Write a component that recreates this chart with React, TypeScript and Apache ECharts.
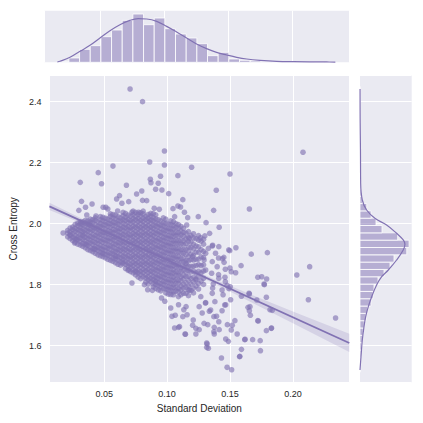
import React, { useEffect, useRef } from "react";
import * as echarts from "echarts";

// ---------- axes ----------
const xTicks = [0.05, 0.1, 0.15, 0.2];
const yTicks = [1.6, 1.8, 2.0, 2.2, 2.4];
const xRange = [0.0065, 0.2448];
const yRange = [1.4787, 2.4875];

// ---------- scatter: sparse points read individually ----------
const outerPoints: [number, number][] = [
  [0.0706, 2.4416], [0.0805, 2.4], [0.0979, 2.2384], [0.057, 2.189], [0.0862, 2.2023], [0.0979, 2.1925],
  [0.1195, 2.185], [0.0453, 2.1672], [0.031, 2.1357], [0.0479, 2.1311], [0.1086, 2.1574], [0.0948, 2.1554],
  [0.0867, 2.1456], [0.093, 2.1325], [0.0872, 2.1344], [0.0677, 2.1259], [0.0799, 2.1072], [0.0758, 2.0974],
  [0.0909, 2.1128], [0.0959, 2.1105], [0.1013, 2.0984], [0.0622, 2.0918], [0.0599, 2.081], [0.0695, 2.0722],
  [0.0805, 2.0767], [0.0838, 2.0754], [0.0641, 2.0669], [0.1125, 2.0787], [0.1086, 2.058], [0.032, 2.0734],
  [0.0404, 2.0646], [0.0299, 2.0439], [0.0352, 2.0538], [0.0492, 2.0538], [0.0513, 2.0538], [0.0529, 2.0482],
  [0.0607, 2.0417], [0.0898, 2.0505], [0.0938, 2.0472], [0.1047, 2.0492], [0.1107, 2.0548], [0.1138, 2.0374],
  [0.1248, 2.023], [0.0362, 2.0285], [0.0435, 2.0252], [0.0721, 2.0374], [0.0773, 2.0374], [0.1164, 2.0197],
  [0.106, 2.023], [0.032, 2.0013], [0.0383, 1.998],
  [0.208, 2.2341], [0.15, 2.1629], [0.1391, 2.1095], [0.137, 2.0439], [0.1654, 2.0482], [0.131, 2.0033],
  [0.1414, 1.9882], [0.1156, 1.9957], [0.1338, 1.9685], [0.13, 1.96], [0.1266, 1.954], [0.1174, 1.952],
  [0.1359, 1.927], [0.1328, 1.919], [0.149, 1.914], [0.1547, 1.921],
  [0.1362, 1.9292], [0.1498, 1.9115], [0.1669, 1.9], [0.1797, 1.905], [0.2031, 1.8318], [0.2133, 1.859],
  [0.2123, 1.7508], [0.2339, 1.6908], [0.144, 1.8852], [0.1453, 1.8734], [0.1409, 1.8875], [0.1588, 1.8623],
  [0.15, 1.8548], [0.1545, 1.8393], [0.146, 1.8243], [0.1409, 1.8328], [0.1721, 1.8243], [0.1752, 1.8262],
  [0.1791, 1.8187], [0.1773, 1.8], [0.1477, 1.798], [0.1492, 1.787], [0.1367, 1.8023], [0.1362, 1.789],
  [0.1654, 1.7695], [0.1591, 1.762], [0.1713, 1.7498], [0.1789, 1.7587], [0.1818, 1.718], [0.1836, 1.716],
  [0.1445, 1.7672], [0.1505, 1.7508], [0.1466, 1.7344], [0.1643, 1.7259], [0.1662, 1.6997], [0.1721, 1.682],
  [0.183, 1.658], [0.1789, 1.6492], [0.1539, 1.682], [0.1479, 1.6689], [0.1518, 1.6669], [0.1557, 1.6384],
  [0.1487, 1.6144], [0.1466, 1.622], [0.1617, 1.6197], [0.168, 1.6197], [0.174, 1.6164], [0.1742, 1.5836],
  [0.1591, 1.5882], [0.1578, 1.5652], [0.1432, 1.5597], [0.1477, 1.5292], [0.1513, 1.5213], [0.1315, 1.6089],
  [0.1315, 1.5947], [0.1375, 1.6384], [0.1323, 1.6689], [0.1375, 1.6603], [0.1414, 1.6525], [0.1393, 1.6964],
  [0.1336, 1.7128], [0.1279, 1.7072], [0.1305, 1.74], [0.1654, 1.7147],
  [0.1451, 1.8898], [0.1463, 1.8505], [0.151, 1.8426], [0.1771, 1.8023], [0.1651, 1.7718], [0.1659, 1.7279],
  [0.1724, 1.681], [0.1828, 1.657], [0.162, 1.621], [0.1576, 1.564], [0.1146, 1.6374], [0.1328, 1.5915],
  [0.1318, 1.6056], [0.1372, 1.6459], [0.151, 1.6515], [0.1411, 1.6784], [0.1294, 1.6734], [0.1229, 1.657],
  [0.1208, 1.6843], [0.1372, 1.6951], [0.1346, 1.717], [0.1437, 1.7147], [0.1458, 1.7334], [0.138, 1.7443],
  [0.1307, 1.741], [0.1268, 1.7607], [0.1359, 1.7718], [0.1437, 1.7826], [0.1502, 1.7934], [0.1463, 1.8098],
  [0.1411, 1.821], [0.1354, 1.8374], [0.1307, 1.8482], [0.1398, 1.859], [0.1359, 1.8754], [0.1294, 1.881],
  [0.1307, 1.903], [0.1385, 1.903], [0.1411, 1.9246], [0.1203, 1.8918], [0.1151, 1.8702], [0.1229, 1.8154],
  [0.1177, 1.7826], [0.1255, 1.7279], [0.1151, 1.7279], [0.1125, 1.6951], [0.1099, 1.6623],
  [0.0174, 1.9695], [0.0232, 1.962], [0.0279, 1.9475], [0.0266, 1.9367], [0.033, 1.964], [0.0357, 1.9311],
  [0.0422, 1.918], [0.0487, 1.904], [0.0591, 1.8931], [0.0648, 1.8744], [0.0695, 1.8492], [0.0721, 1.8056],
  [0.0752, 1.8416], [0.082, 1.8], [0.0846, 1.7836], [0.0883, 1.7816], [0.0909, 1.8111], [0.0956, 1.7564],
  [0.0982, 1.7456], [0.1029, 1.7236], [0.1039, 1.6964], [0.1065, 1.6997], [0.106, 1.658], [0.1091, 1.6603],
  [0.1143, 1.6384], [0.1203, 1.6669], [0.1229, 1.6384], [0.1255, 1.6525], [0.1133, 1.718], [0.1159, 1.7016],
  [0.1091, 1.7344],
];

// ---------- scatter: dense core, estimated column by column ----------
const coreColumnsA: [number, number[]][] = [
  [0.021, [1.957, 1.969, 1.978]],
  [0.025, [1.945, 1.955, 1.968, 1.98, 1.989]],
  [0.029, [1.933, 1.947, 1.956, 1.97, 1.98, 1.993, 2.002]],
  [0.033, [1.926, 1.935, 1.949, 1.96, 1.973, 1.983, 1.996, 2.006]],
  [0.037, [1.915, 1.929, 1.938, 1.952, 1.962, 1.976, 1.986, 1.999, 2.009]],
  [0.041, [1.908, 1.918, 1.932, 1.942, 1.955, 1.965, 1.979, 1.989, 2.003, 2.013]],
  [0.045, [1.898, 1.912, 1.922, 1.935, 1.945, 1.959, 1.969, 1.983, 1.992, 2.006]],
  [0.049, [1.892, 1.902, 1.915, 1.925, 1.939, 1.949, 1.963, 1.972, 1.986, 1.996, 2.01, 2.021]],
  [0.053, [1.883, 1.897, 1.906, 1.92, 1.93, 1.944, 1.954, 1.967, 1.977, 1.991, 2.001, 2.015]],
  [0.057, [1.877, 1.887, 1.901, 1.91, 1.924, 1.934, 1.948, 1.958, 1.971, 1.981, 1.995, 2.005, 2.019, 2.03]],
  [0.061, [1.867, 1.881, 1.891, 1.905, 1.915, 1.928, 1.938, 1.952, 1.962, 1.976, 1.985, 1.999, 2.009, 2.023]],
  [0.065, [1.869, 1.883, 1.893, 1.907, 1.917, 1.931, 1.94, 1.954, 1.964, 1.978, 1.988, 2.002, 2.012, 2.026, 2.037]],
  [0.069, [1.847, 1.861, 1.871, 1.885, 1.895, 1.909, 1.919, 1.933, 1.942, 1.956, 1.966, 1.98, 1.99, 2.004, 2.014, 2.028]],
  [0.073, [1.839, 1.849, 1.863, 1.873, 1.887, 1.897, 1.911, 1.921, 1.935, 1.945, 1.958, 1.968, 1.982, 1.992, 2.006, 2.016, 2.03, 2.041]],
  [0.077, [1.825, 1.839, 1.849, 1.863, 1.873, 1.887, 1.897, 1.911, 1.921, 1.935, 1.945, 1.959, 1.969, 1.983, 1.993, 2.007, 2.017, 2.031]],
  [0.081, [1.826, 1.84, 1.85, 1.864, 1.874, 1.888, 1.898, 1.912, 1.922, 1.936, 1.946, 1.96, 1.97, 1.984, 1.994, 2.008, 2.018, 2.032, 2.041]],
  [0.085, [1.802, 1.816, 1.826, 1.84, 1.85, 1.864, 1.874, 1.888, 1.898, 1.912, 1.922, 1.936, 1.946, 1.96, 1.97, 1.984, 1.994, 2.008, 2.018, 2.03]],
  [0.089, [1.793, 1.803, 1.817, 1.827, 1.841, 1.851, 1.865, 1.875, 1.889, 1.899, 1.913, 1.923, 1.937, 1.947, 1.961, 1.971, 1.985, 1.995, 2.009, 2.019, 2.033]],
  [0.093, [1.783, 1.797, 1.807, 1.821, 1.831, 1.845, 1.855, 1.869, 1.879, 1.893, 1.903, 1.917, 1.927, 1.941, 1.951, 1.965, 1.975, 1.989, 1.999, 2.013]],
  [0.097, [1.787, 1.801, 1.811, 1.825, 1.835, 1.849, 1.859, 1.873, 1.883, 1.897, 1.907, 1.921, 1.931, 1.945, 1.955, 1.969, 1.979, 1.993, 2.003, 2.019]],
  [0.101, [1.769, 1.783, 1.793, 1.807, 1.817, 1.831, 1.841, 1.855, 1.865, 1.879, 1.889, 1.903, 1.913, 1.927, 1.937, 1.951, 1.961, 1.975, 1.985, 1.999]],
  [0.105, [1.767, 1.777, 1.791, 1.801, 1.815, 1.825, 1.839, 1.849, 1.863, 1.873, 1.887, 1.897, 1.911, 1.921, 1.935, 1.945, 1.959, 1.969, 1.983, 1.994, 2.007]],
  [0.109, [1.761, 1.777, 1.788, 1.804, 1.815, 1.83, 1.841, 1.856, 1.867, 1.882, 1.893, 1.908, 1.919, 1.934, 1.945, 1.96, 1.971, 1.986, 1.997]],
  [0.113, [1.772, 1.789, 1.802, 1.819, 1.831, 1.847, 1.859, 1.875, 1.887, 1.903, 1.915, 1.931, 1.943, 1.959, 1.971, 1.985]],
  [0.117, [1.764, 1.782, 1.796, 1.814, 1.828, 1.846, 1.86, 1.878, 1.892, 1.91, 1.924, 1.942, 1.956, 1.974]],
  [0.121, [1.773, 1.789, 1.809, 1.825, 1.845, 1.861, 1.881, 1.897, 1.917, 1.933, 1.953, 1.967]],
  [0.125, [1.786, 1.804, 1.826, 1.844, 1.866, 1.884, 1.906, 1.924, 1.946, 1.961]],
  [0.129, [1.801, 1.821, 1.845, 1.865, 1.889, 1.909, 1.933, 1.949]],
];

const coreColumnsB: [number, number[]][] = [
  [0.023, [1.951, 1.963, 1.973, 1.986]],
  [0.027, [1.94, 1.952, 1.961, 1.975, 1.985, 1.998]],
  [0.031, [1.93, 1.942, 1.953, 1.964, 1.978, 1.987, 1.999, 2.006]],
  [0.035, [1.921, 1.934, 1.944, 1.955, 1.968, 1.979, 1.992, 2.002, 2.011]],
  [0.039, [1.912, 1.923, 1.937, 1.947, 1.958, 1.972, 1.982, 1.995, 2.005, 2.015]],
  [0.043, [1.903, 1.916, 1.926, 1.939, 1.951, 1.961, 1.975, 1.986, 1.997, 2.011, 2.019]],
  [0.047, [1.895, 1.907, 1.919, 1.929, 1.943, 1.953, 1.966, 1.977, 1.991, 2.001, 2.013, 2.023]],
  [0.051, [1.888, 1.899, 1.912, 1.922, 1.936, 1.946, 1.959, 1.971, 1.982, 1.996, 2.006, 2.018]],
  [0.055, [1.88, 1.893, 1.903, 1.917, 1.927, 1.941, 1.951, 1.965, 1.975, 1.988, 2.0, 2.011, 2.024, 2.032]],
  [0.059, [1.872, 1.885, 1.895, 1.909, 1.919, 1.933, 1.944, 1.956, 1.969, 1.979, 1.993, 2.003, 2.016, 2.028]],
  [0.063, [1.864, 1.875, 1.889, 1.899, 1.913, 1.923, 1.937, 1.947, 1.961, 1.971, 1.984, 1.995, 2.009, 2.019]],
  [0.067, [1.853, 1.867, 1.877, 1.891, 1.901, 1.915, 1.925, 1.939, 1.949, 1.963, 1.973, 1.987, 1.997, 2.011, 2.021, 2.034]],
  [0.071, [1.843, 1.857, 1.867, 1.881, 1.891, 1.905, 1.915, 1.929, 1.939, 1.953, 1.963, 1.977, 1.987, 2.001, 2.011, 2.025]],
  [0.075, [1.832, 1.845, 1.855, 1.869, 1.879, 1.893, 1.903, 1.917, 1.927, 1.941, 1.951, 1.965, 1.975, 1.989, 1.999, 2.013, 2.023, 2.037]],
  [0.079, [1.82, 1.833, 1.843, 1.857, 1.867, 1.881, 1.891, 1.905, 1.915, 1.929, 1.939, 1.953, 1.963, 1.977, 1.987, 2.001, 2.011, 2.025, 2.036]],
  [0.083, [1.809, 1.822, 1.832, 1.846, 1.856, 1.87, 1.88, 1.894, 1.904, 1.918, 1.928, 1.942, 1.952, 1.966, 1.976, 1.99, 2.0, 2.014, 2.024]],
  [0.087, [1.81, 1.82, 1.834, 1.844, 1.858, 1.868, 1.882, 1.892, 1.906, 1.916, 1.93, 1.94, 1.954, 1.964, 1.978, 1.988, 2.002, 2.012, 2.025, 2.034]],
  [0.091, [1.788, 1.801, 1.811, 1.825, 1.835, 1.849, 1.859, 1.873, 1.883, 1.897, 1.907, 1.921, 1.931, 1.945, 1.955, 1.969, 1.979, 1.993, 2.003, 2.016, 2.029]],
  [0.095, [1.78, 1.793, 1.803, 1.817, 1.827, 1.841, 1.851, 1.865, 1.875, 1.889, 1.899, 1.913, 1.923, 1.937, 1.947, 1.961, 1.971, 1.985, 1.995, 2.009]],
  [0.099, [1.773, 1.786, 1.796, 1.81, 1.82, 1.834, 1.844, 1.858, 1.868, 1.882, 1.892, 1.906, 1.916, 1.93, 1.94, 1.954, 1.964, 1.978, 1.988, 2.002, 2.015]],
  [0.103, [1.768, 1.781, 1.791, 1.805, 1.815, 1.829, 1.839, 1.853, 1.863, 1.877, 1.887, 1.901, 1.911, 1.925, 1.935, 1.949, 1.959, 1.973, 1.983, 1.997, 2.009]],
  [0.107, [1.779, 1.79, 1.805, 1.816, 1.831, 1.842, 1.857, 1.868, 1.883, 1.894, 1.909, 1.92, 1.935, 1.946, 1.961, 1.972, 1.987, 2.0]],
  [0.111, [1.767, 1.783, 1.796, 1.813, 1.826, 1.843, 1.856, 1.873, 1.886, 1.903, 1.916, 1.933, 1.946, 1.963, 1.976, 1.991]],
  [0.115, [1.772, 1.791, 1.807, 1.827, 1.843, 1.863, 1.879, 1.899, 1.915, 1.935, 1.951, 1.969]],
  [0.119, [1.781, 1.802, 1.82, 1.842, 1.86, 1.882, 1.9, 1.922, 1.94, 1.961]],
  [0.123, [1.796, 1.819, 1.839, 1.863, 1.883, 1.907, 1.927, 1.951]],
  [0.127, [1.812, 1.839, 1.863, 1.891, 1.915, 1.943]],
];

// ---------- regression line and confidence band ----------
const regLine: [number, number][] = [[0.0065, 2.057], [0.2448, 1.609]];
const ciX = [0.0065, 0.03, 0.06, 0.085, 0.11, 0.14, 0.17, 0.2, 0.2448];
const ciUpper = [2.069, 2.021, 1.961, 1.913, 1.867, 1.814, 1.762, 1.712, 1.639];
const ciLower = [2.045, 2.005, 1.951, 1.905, 1.857, 1.798, 1.736, 1.674, 1.579];

// ---------- top marginal (x) ----------
const xHistStart = 0.0174;
const xHistWidth = 0.00833;
const xHistCounts = [2, 26, 78, 100, 154, 194, 252, 290, 226, 266, 202, 170, 146, 112, 40, 60, 20, 12, 8, 4, 3, 2, 3, 3, 1, 1];
const xHistMax = 310;
const xKde: [number, number][] = [
  [0.0167, 2], [0.0188, 6], [0.0266, 30], [0.0344, 66], [0.0422, 102], [0.05, 146], [0.0578, 190],
  [0.0656, 226], [0.0734, 252], [0.0799, 262], [0.0865, 260], [0.0943, 246], [0.1021, 216], [0.1099, 182],
  [0.1177, 146], [0.1255, 110], [0.1333, 82], [0.1411, 60], [0.149, 44], [0.1568, 30], [0.1646, 20],
  [0.175, 12], [0.188, 6], [0.201, 4], [0.227, 2], [0.2339, 1.5],
];

// ---------- right marginal (y) ----------
const yHistStart = 1.514;
const yHistWidth = 0.024;
const yHistCounts = [3, 5, 7, 11, 15, 21, 28, 39, 50, 72, 85, 91, 117, 156, 195, 221, 304, 319, 245, 143, 104, 72, 44, 15, 10, 6, 5, 4, 2, 3, 2, 1, 2, 1, 0, 1, 1, 1, 1];
const yHistMax = 336;
const yKde: [number, number][] = [
  [0, 1.5203], [6.5, 1.5639], [15, 1.6187], [26, 1.6623], [37, 1.6951], [54, 1.7279], [76, 1.7607],
  [108, 1.799], [141, 1.8262], [184, 1.8482], [238, 1.881], [281, 1.9138], [292, 1.9325], [281, 1.9466],
  [238, 1.9685], [173, 1.9957], [97, 2.0177], [43, 2.0449], [15, 2.0777], [4.5, 2.1325], [3, 2.24],
  [1, 2.34], [0.3, 2.4416],
];

const PURPLE = "#8172B3";
const FONT = "Liberation Sans, Arial, Helvetica, sans-serif";
const TEXT = "#262626";

function matchTick(v: number, ticks: number[]) {
  return ticks.find((t) => Math.abs(t - v) < 1e-9);
}

export default function App() {
  const ref = useRef<HTMLDivElement>(null);
  useEffect(() => {
    if (!ref.current) return;
    const chart = echarts.init(ref.current, null, { renderer: "svg" });

    const scatterData: [number, number][] = [];
    coreColumnsA.forEach(([x, ys]) => ys.forEach((y) => scatterData.push([x, y])));
    coreColumnsB.forEach(([x, ys]) => ys.forEach((y) => scatterData.push([x, y])));
    outerPoints.forEach((p) => scatterData.push(p));

    const gridBase = { show: true, backgroundColor: "#EAEAF2", borderWidth: 0, containLabel: false };
    const split = { show: true, lineStyle: { color: "#ffffff", width: 1 } };

    const option: any = {
      animation: false,
      textStyle: { fontFamily: FONT },
      grid: [
        { ...gridBase, left: 44.3, top: 75, width: 305, height: 307.7 },
        { ...gridBase, left: 44.3, top: 10.7, width: 305, height: 51.6 },
        { ...gridBase, left: 360, top: 75, width: 51.7, height: 307.7 },
      ],
      xAxis: [
        {
          gridIndex: 0, type: "value", min: xRange[0], max: xRange[1], splitNumber: 5,
          axisLine: { show: false }, axisTick: { show: false }, splitLine: split,
          axisLabel: {
            show: true, margin: 7, fontSize: 9, color: TEXT, fontFamily: FONT,
            showMinLabel: false, showMaxLabel: false,
            formatter: (v: number) => { const t = matchTick(v, xTicks); return t === undefined ? "" : t.toFixed(2); },
          },
          name: "Standard Deviation", nameLocation: "middle", nameGap: 19,
          nameTextStyle: { fontSize: 10, color: TEXT, fontFamily: FONT },
        },
        {
          gridIndex: 1, type: "value", min: xRange[0], max: xRange[1], splitNumber: 5,
          axisLine: { show: false }, axisTick: { show: false }, axisLabel: { show: false }, splitLine: split,
        },
        {
          gridIndex: 2, type: "value", min: 0, max: yHistMax,
          axisLine: { show: false }, axisTick: { show: false }, axisLabel: { show: false }, splitLine: { show: false },
        },
      ],
      yAxis: [
        {
          gridIndex: 0, type: "value", min: yRange[0], max: yRange[1], splitNumber: 5,
          axisLine: { show: false }, axisTick: { show: false }, splitLine: split,
          axisLabel: {
            show: true, margin: 8, fontSize: 9, color: TEXT, fontFamily: FONT,
            showMinLabel: false, showMaxLabel: false,
            formatter: (v: number) => { const t = matchTick(v, yTicks); return t === undefined ? "" : t.toFixed(1); },
          },
          name: "Cross Entropy", nameLocation: "middle", nameGap: 25,
          nameTextStyle: { fontSize: 10, color: TEXT, fontFamily: FONT },
        },
        {
          gridIndex: 1, type: "value", min: 0, max: xHistMax,
          axisLine: { show: false }, axisTick: { show: false }, axisLabel: { show: false }, splitLine: { show: false },
        },
        {
          gridIndex: 2, type: "value", min: yRange[0], max: yRange[1], splitNumber: 5,
          axisLine: { show: false }, axisTick: { show: false }, axisLabel: { show: false }, splitLine: split,
        },
      ],
      series: [
        {
          type: "scatter", xAxisIndex: 0, yAxisIndex: 0, data: scatterData, symbolSize: 5.6,
          itemStyle: { color: "rgba(129,114,179,0.8)", borderWidth: 0 }, silent: true, large: false,
          progressive: 0,
        },
        {
          type: "custom", xAxisIndex: 0, yAxisIndex: 0, silent: true,
          data: [[ciX[0], ciLower[0]]],
          renderItem: (_p: any, api: any) => {
            const pts: number[][] = [];
            for (let i = 0; i < ciX.length; i++) pts.push(api.coord([ciX[i], ciUpper[i]]));
            for (let i = ciX.length - 1; i >= 0; i--) pts.push(api.coord([ciX[i], ciLower[i]]));
            return { type: "polygon", shape: { points: pts }, style: { fill: "rgba(129,114,179,0.2)" } };
          },
        },
        {
          type: "line", xAxisIndex: 0, yAxisIndex: 0, data: regLine, showSymbol: false, silent: true,
          lineStyle: { color: PURPLE, width: 1.8 },
        },
        {
          type: "custom", xAxisIndex: 1, yAxisIndex: 1, silent: true,
          data: xHistCounts.map((c, i) => [xHistStart + i * xHistWidth, xHistStart + (i + 1) * xHistWidth, c]),
          encode: { x: [0, 1], y: 2 },
          renderItem: (_p: any, api: any) => {
            const p0 = api.coord([api.value(0), api.value(2)]);
            const p1 = api.coord([api.value(1), 0]);
            return {
              type: "rect",
              shape: { x: p0[0], y: p0[1], width: p1[0] - p0[0], height: p1[1] - p0[1] },
              style: { fill: "rgba(129,114,179,0.5)", stroke: "#ffffff", lineWidth: 0.8 },
            };
          },
        },
        {
          type: "line", xAxisIndex: 1, yAxisIndex: 1, data: xKde, smooth: 0.4, showSymbol: false, silent: true,
          lineStyle: { color: PURPLE, width: 1.2 },
        },
        {
          type: "custom", xAxisIndex: 2, yAxisIndex: 2, silent: true,
          data: yHistCounts.map((c, i) => [c, yHistStart + i * yHistWidth, yHistStart + (i + 1) * yHistWidth]),
          encode: { x: 0, y: [1, 2] },
          renderItem: (_p: any, api: any) => {
            const p0 = api.coord([api.value(0), api.value(2)]);
            const p1 = api.coord([0, api.value(1)]);
            return {
              type: "rect",
              shape: { x: p1[0], y: p0[1], width: p0[0] - p1[0], height: p1[1] - p0[1] },
              style: { fill: "rgba(129,114,179,0.5)", stroke: "#ffffff", lineWidth: 0.8 },
            };
          },
        },
        {
          type: "line", xAxisIndex: 2, yAxisIndex: 2, data: yKde, smooth: 0.4, showSymbol: false, silent: true,
          lineStyle: { color: PURPLE, width: 1.2 },
        },
      ],
    };
    chart.setOption(option);
    return () => chart.dispose();
  }, []);

  return (
    <div
      ref={ref}
      style={{ position: "absolute", left: 0, top: 0, width: 423, height: 423, background: "#ffffff" }}
    />
  );
}
